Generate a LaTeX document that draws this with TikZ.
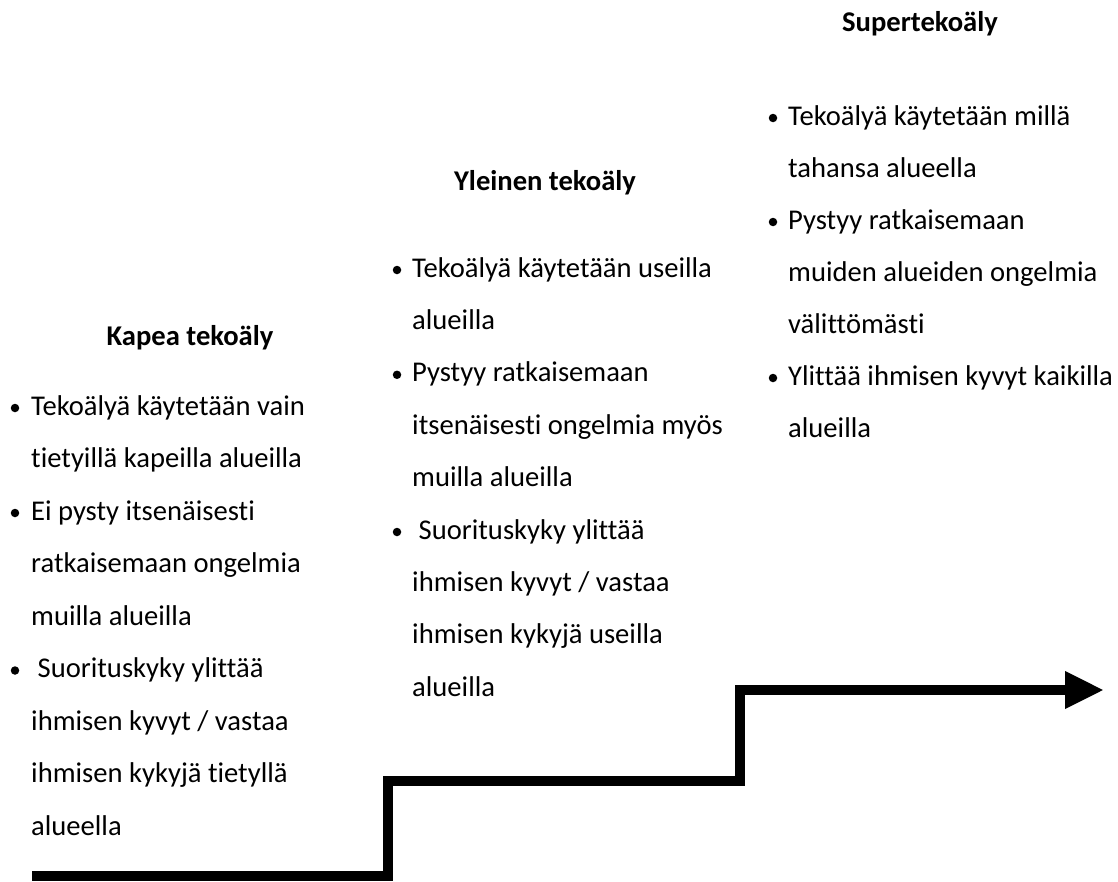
\documentclass[tikz,border=0pt]{standalone}
\usepackage{fontspec}
\setmainfont{Carlito}[Ligatures=NoCommon]
\usetikzlibrary{arrows.meta}
\tikzset{
  body/.style={anchor=base west, inner sep=0pt, font=\fontsize{28.6}{34}\selectfont},
  head/.style={anchor=base, inner sep=0pt, font=\fontsize{28.6}{34}\selectfont\bfseries},
  bul/.style={circle, fill=black, inner sep=0pt, minimum size=8.5pt},
  stair/.style={line width=10pt, line join=miter, -{Triangle[length=39pt, width=35pt]}}
}
\begin{document}
\begin{tikzpicture}[x=1pt, y=-1pt]
\useasboundingbox (0,0) rectangle (1118,881);

% Kapea tekoäly
\node[head] (h1) at (190,345) {Kapea tekoäly};
\foreach \t [count=\i] in {Tekoälyä käytetään vain, tietyillä kapeilla alueilla,
  Ei pysty itsenäisesti, ratkaisemaan ongelmia, muilla alueilla,
  {\ Suorituskyky ylittää}, ihmisen kyvyt / vastaa, ihmisen kykyjä tietyllä, alueella}
  \node[body] (a\i) at (31, {415+(\i-1)*52.5}) {\t};
\node[bul] (ab1) at (15,408) {};
\node[bul] (ab2) at (15,513) {};
\node[bul] (ab3) at (15,670.5) {};

% Yleinen tekoäly
\node[head] (h2) at (545,190) {Yleinen tekoäly};
\foreach \t [count=\i] in {Tekoälyä käytetään useilla, alueilla,
  Pystyy ratkaisemaan, itsenäisesti ongelmia myös, muilla alueilla,
  {\ Suorituskyky ylittää}, ihmisen kyvyt / vastaa, ihmisen kykyjä useilla, alueilla}
  \node[body] (b\i) at (412, {277+(\i-1)*52.4}) {\t};
\node[bul] (bb1) at (397,270) {};
\node[bul] (bb2) at (397,374.8) {};
\node[bul] (bb3) at (397,532) {};

% Supertekoäly
\node[head] (h3) at (920,31) {Supertekoäly};
\foreach \t [count=\i] in {Tekoälyä käytetään millä, tahansa alueella,
  Pystyy ratkaisemaan, muiden alueiden ongelmia, välittömästi,
  Ylittää ihmisen kyvyt kaikilla, alueilla}
  \node[body] (c\i) at (788, {125+(\i-1)*52}) {\t};
\node[bul] (cb1) at (773,118) {};
\node[bul] (cb2) at (773,222) {};
\node[bul] (cb3) at (773,378) {};

% rising staircase arrow
\coordinate (s0) at (32,876);
\coordinate (s1) at (388,876);
\coordinate (s2) at (388,781);
\coordinate (s3) at (740,781);
\coordinate (s4) at (740,690);
\coordinate (s5) at (1104,690);
\draw[stair] (s0) -- (s1) -- (s2) -- (s3) -- (s4) -- (s5);
\end{tikzpicture}
\end{document}
